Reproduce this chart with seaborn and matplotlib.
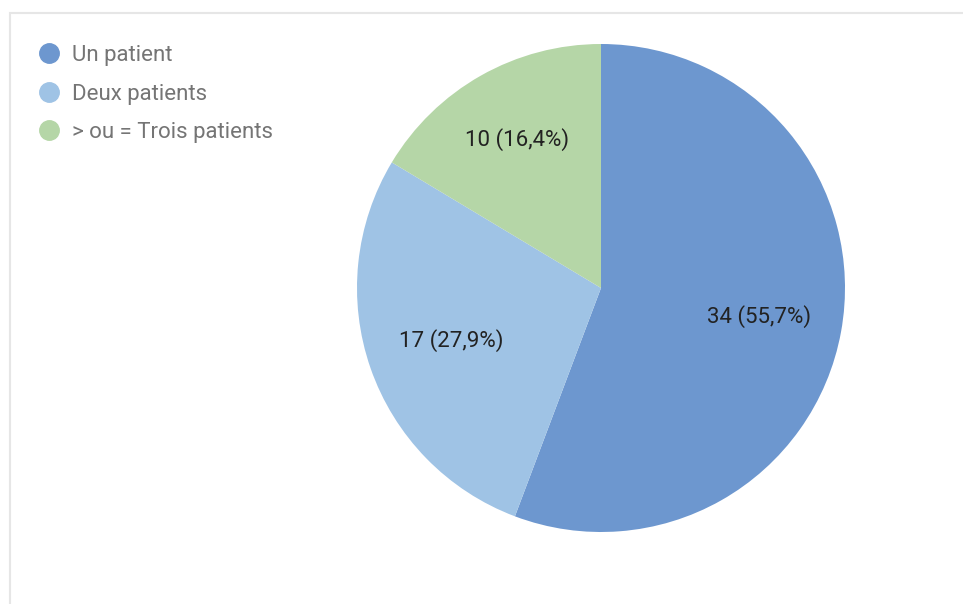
import matplotlib
matplotlib.use("Agg")
import matplotlib.pyplot as plt
import seaborn as sns
import numpy as np
from matplotlib.lines import Line2D
from matplotlib.patches import Rectangle

# data
categories = ["Un patient", "Deux patients", "> ou = Trois patients"]
counts = [34, 17, 10]
percent_labels = ["55,7%", "27,9%", "16,4%"]
colors = ["#6d97cf", "#9fc3e5", "#b5d6a7"]

sns.set_theme(style="white")
plt.rcParams["font.family"] = ["Roboto", "DejaVu Sans"]

W, H = 963, 604
fig = plt.figure(figsize=(W / 100, H / 100), dpi=100)

# pie centre (601, 288) px, radius 244 px
cx, cy, r = 601, 288, 244
ax = fig.add_axes([(cx - r) / W, (H - cy - r) / H, 2 * r / W, 2 * r / H])

wedges, _ = ax.pie(counts, colors=colors, startangle=90, counterclock=False,
                   wedgeprops=dict(linewidth=0))
ax.set_xlim(-1, 1)
ax.set_ylim(-1, 1)
ax.set_aspect("equal")
ax.axis("off")

# value labels inside slices
dists = [0.66, 0.65, 0.70]
for w, n, p, d in zip(wedges, counts, percent_labels, dists):
    ang = np.deg2rad((w.theta1 + w.theta2) / 2)
    ax.text(d * np.cos(ang), d * np.sin(ang), f"{n} ({p})", ha="center", va="center",
            fontsize=16, color="#222222")

# legend
handles = [Line2D([], [], marker="o", linestyle="none", markersize=14,
                  markerfacecolor=c, markeredgecolor=c) for c in colors]
leg = fig.legend(handles, categories, loc="upper left",
                 bbox_to_anchor=(35.7 / W, 1 - 45 / H), frameon=False,
                 fontsize=16, labelspacing=0.79, handletextpad=0.44,
                 handlelength=1.2, borderaxespad=0, borderpad=0)
for t in leg.get_texts():
    t.set_color("#757575")

# light frame at top/left
fig.patches.append(Rectangle((9.5 / W, -0.1), 1.2, (H - 13.5) / H + 0.1,
                             transform=fig.transFigure, fill=False,
                             edgecolor="#e6e6e6", linewidth=1.5))

fig.savefig("out.png", dpi=100)
